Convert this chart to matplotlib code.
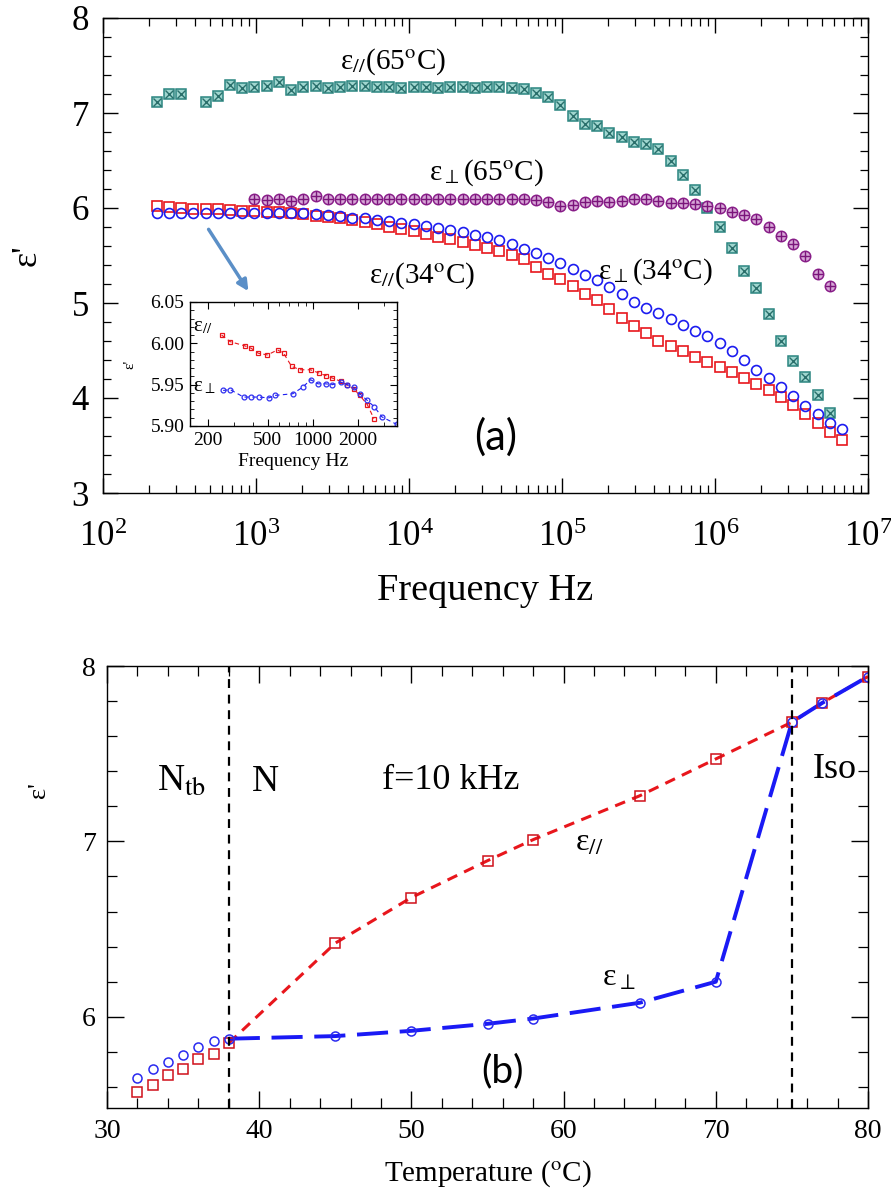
import numpy as np
import matplotlib
matplotlib.use("Agg")
import matplotlib.pyplot as plt
from matplotlib.ticker import MultipleLocator, LogLocator, NullFormatter, FixedLocator, FixedFormatter

plt.rcParams['font.family'] = ['Liberation Serif', 'DejaVu Serif']
plt.rcParams['mathtext.fontset'] = 'stix'

# ---- panel (a): frequency scans (Hz) ----
freq = [224, 269, 324, 389, 468, 562, 676, 813, 977, 1175,
        1413, 1698, 2042, 2455, 2951, 3548, 4266, 5129, 6166, 7413,
        8913, 10715, 12882, 15488, 18621, 22387, 26915, 32359, 38905, 46774,
        56234, 67608, 81283, 97724, 117490, 141254, 169824, 204174, 245471, 295121,
        354813, 426580, 512861, 616595, 741310, 891251, 1071519, 1288250, 1548817, 1862087,
        2238721, 2691535, 3235937, 3890451, 4677351, 5623413, 6760830]

eps_par_34 = [6.02, 6.01, 6.00, 5.99, 5.99, 5.99, 5.98, 5.97, 5.97, 5.96,
              5.96, 5.95, 5.94, 5.92, 5.91, 5.89, 5.87, 5.85, 5.83, 5.80,
              5.78, 5.76, 5.73, 5.70, 5.67, 5.64, 5.61, 5.58, 5.55, 5.51,
              5.46, 5.38, 5.31, 5.25, 5.18, 5.10, 5.03, 4.94, 4.84, 4.76,
              4.68, 4.60, 4.55, 4.49, 4.43, 4.38, 4.33, 4.27, 4.21, 4.15,
              4.08, 4.01, 3.93, 3.83, 3.74, 3.64, 3.56]

eps_perp_34 = [5.95, 5.95, 5.95, 5.95, 5.95, 5.95, 5.95, 5.95, 5.95, 5.95,
               5.95, 5.95, 5.95, 5.94, 5.93, 5.92, 5.90, 5.89, 5.87, 5.86,
               5.84, 5.83, 5.81, 5.79, 5.77, 5.75, 5.72, 5.69, 5.66, 5.62,
               5.57, 5.53, 5.47, 5.42, 5.36, 5.30, 5.24, 5.17, 5.09, 5.01,
               4.95, 4.89, 4.83, 4.77, 4.71, 4.65, 4.58, 4.50, 4.40, 4.30,
               4.21, 4.12, 4.02, 3.92, 3.83, 3.74, 3.67]

eps_par_65 = [7.12, 7.20, 7.20, np.nan, 7.12, 7.18, 7.29, 7.26, 7.27, 7.28,
              7.33, 7.24, 7.27, 7.28, 7.26, 7.27, 7.28, 7.28, 7.27, 7.27,
              7.26, 7.27, 7.27, 7.26, 7.27, 7.27, 7.26, 7.27, 7.27, 7.26,
              7.25, 7.21, 7.17, 7.08, 6.97, 6.88, 6.86, 6.79, 6.75, 6.70,
              6.67, 6.62, 6.49, 6.35, 6.19, 6.00, 5.80, 5.58, 5.34, 5.16,
              4.88, 4.60, 4.39, 4.22, 4.03, 3.84, np.nan]

eps_perp_65 = [np.nan, np.nan, np.nan, np.nan, np.nan, np.nan, np.nan, np.nan, 6.10, 6.08,
               6.10, 6.07, 6.10, 6.13, 6.09, 6.10, 6.09, 6.10, 6.09, 6.10,
               6.09, 6.10, 6.09, 6.10, 6.10, 6.09, 6.10, 6.09, 6.10, 6.09,
               6.09, 6.08, 6.06, 6.02, 6.03, 6.06, 6.07, 6.06, 6.07, 6.09,
               6.10, 6.07, 6.05, 6.05, 6.04, 6.02, 6.00, 5.96, 5.93, 5.88,
               5.80, 5.71, 5.62, 5.50, 5.31, 5.18, np.nan]

# inset (low frequency zoom, 34 C)
ins_f_par = [247, 282, 352, 389, 434, 499, 583, 640, 724, 828,
             968, 1104, 1222, 1352, 1542, 1706, 1875, 2061, 2312, 2559]
ins_par = [6.010, 6.002, 5.997, 5.994, 5.988, 5.986, 5.992, 5.988, 5.972, 5.968,
           5.968, 5.964, 5.961, 5.958, 5.954, 5.949, 5.945, 5.937, 5.926, 5.909]
ins_f_perp = [253, 282, 346, 389, 437, 511, 560, 736, 859, 968,
              1086, 1222, 1352, 1542, 1706, 1875, 2061, 2312, 2582, 2897, 3631]
ins_perp = [5.943, 5.944, 5.935, 5.935, 5.935, 5.934, 5.937, 5.939, 5.947, 5.956,
            5.951, 5.951, 5.950, 5.953, 5.950, 5.947, 5.939, 5.931, 5.923, 5.911, 5.902]

# ---- panel (b): temperature scan at 10 kHz ----
temp = [32, 33, 34, 35, 36, 37, 38, 45, 50, 55, 58, 65, 70, 75, 77, 80]
eps_par_T = [5.57, 5.61, 5.67, 5.70, 5.76, 5.79, 5.85, 6.42, 6.68, 6.89, 7.01, 7.26, 7.47, 7.68, 7.79, 7.94]
eps_perp_T = [5.65, 5.70, 5.74, 5.78, 5.83, 5.86, 5.875, 5.89, 5.92, 5.96, 5.99, 6.08, 6.20, 7.68, 7.79, 7.94]
T_N = 38
T_iso = 75

W, H = 891, 1198
fig = plt.figure(figsize=(W / 100, H / 100), dpi=100)

# ================= panel (a) =================
ax1 = fig.add_axes([103 / W, 1 - 493 / H, 765 / W, 475 / H])
ms = 7.5
ax1.plot(freq, eps_par_65, ls='none', marker='s', ms=ms, mfc='#9fd6cf', mec='#2a8580', mew=1.1)
ax1.plot(freq, eps_par_65, ls='none', marker='x', ms=ms * 0.75, mec='#2a6f6b', mew=1.0)
ax1.plot(freq, eps_perp_65, ls='none', marker='o', ms=ms, mfc='#d7a6d7', mec='#8a1f8a', mew=1.1)
ax1.plot(freq, eps_perp_65, ls='none', marker='+', ms=ms * 1.0, mec='#7a157a', mew=1.0)
ax1.plot(freq, eps_par_34, ls='none', marker='s', ms=ms, mfc='none', mec='#e8161c', mew=1.2)
ax1.plot(freq, eps_perp_34, ls='none', marker='o', ms=ms * 0.95, mfc='none', mec='#1c1cf0', mew=1.2)

ax1.set_xscale('log')
ax1.set_xlim(1e2, 1e7)
ax1.set_ylim(3, 8)
ax1.yaxis.set_major_locator(MultipleLocator(1))
ax1.yaxis.set_minor_locator(MultipleLocator(0.2))
ax1.xaxis.set_major_locator(LogLocator(base=10, numticks=10))
ax1.xaxis.set_minor_locator(LogLocator(base=10, subs=np.arange(2, 10), numticks=20))
ax1.xaxis.set_minor_formatter(NullFormatter())
ax1.tick_params(which='both', direction='in', top=True, right=True)
ax1.tick_params(which='major', length=11, width=1.0, labelsize=25)
ax1.tick_params(axis='y', which='major', pad=10)
ax1.tick_params(axis='x', which='major', pad=20)
ax1.tick_params(which='minor', length=6, width=0.9)
ax1.set_xlabel('Frequency Hz', fontsize=27.5, labelpad=14)
ax1.set_ylabel("ε'", fontsize=26, labelpad=20)

ax1.text(7850, 7.54, 'ε$_{//}$(65$^{\\mathrm{o}}$C)', fontsize=21, ha='center', va='center')
ax1.text(32000, 6.37, 'ε$_{\\perp}$(65$^{\\mathrm{o}}$C)', fontsize=21, ha='center', va='center')
ax1.text(12200, 5.29, 'ε$_{//}$(34$^{\\mathrm{o}}$C)', fontsize=21, ha='center', va='center')
ax1.text(405000, 5.33, 'ε$_{\\perp}$(34$^{\\mathrm{o}}$C)', fontsize=21, ha='center', va='center')
ax1.text(37000, 3.59, '(a)', fontsize=30, ha='center', va='center', family=['Lato', 'DejaVu Sans'])

ax1.annotate('', xy=(912, 5.10), xytext=(479, 5.80),
             arrowprops=dict(arrowstyle='-|>', color='#5b8fc7', lw=2.5, mutation_scale=16))

# inset
axi = fig.add_axes([190 / W, 1 - 426 / H, 207 / W, 124 / H])
axi.plot(ins_f_par, ins_par, ls=(0, (4, 3)), color='#e8161c', lw=0.8,
         marker='s', ms=3.5, mfc='none', mec='#e8161c', mew=0.9)
axi.plot(ins_f_perp, ins_perp, ls=(0, (4, 3)), color='#1c1cf0', lw=0.8,
         marker='o', ms=3.5, mfc='none', mec='#3030f0', mew=0.9)
axi.set_xscale('log')
axi.set_xlim(152, 3650)
axi.set_ylim(5.90, 6.05)
axi.xaxis.set_major_locator(FixedLocator([200, 500, 1000, 2000]))
axi.xaxis.set_major_formatter(FixedFormatter(['200', '500', '1000', '2000']))
axi.xaxis.set_minor_locator(LogLocator(base=10, subs=np.arange(2, 10), numticks=20))
axi.xaxis.set_minor_formatter(NullFormatter())
axi.yaxis.set_major_locator(FixedLocator([5.90, 5.95, 6.00, 6.05]))
axi.yaxis.set_major_formatter(FixedFormatter(['5.90', '5.95', '6.00', '6.05']))
axi.yaxis.set_minor_locator(MultipleLocator(0.01))
axi.tick_params(which='both', direction='in', top=True, right=True, labelsize=14)
axi.tick_params(which='major', length=5, pad=4)
axi.tick_params(which='minor', length=3)
axi.set_xlabel('Frequency Hz', fontsize=14, labelpad=3)
axi.set_ylabel("ε'", fontsize=11, labelpad=10)
axi.text(160, 6.020, 'ε$_{//}$', fontsize=15, ha='left', va='center')
axi.text(160, 5.948, 'ε$_{\\perp}$', fontsize=15, ha='left', va='center')

# ================= panel (b) =================
ax2 = fig.add_axes([107 / W, 1 - 1108 / H, 761 / W, 442 / H])
temp_a = np.array(temp)
par_a = np.array(eps_par_T)
perp_a = np.array(eps_perp_T)
on = temp_a >= T_N
ax2.plot(temp_a[on], par_a[on], ls=(0, (3.5, 2.5)), color='#e8161c', lw=2.2)
ax2.plot(temp_a[on], perp_a[on], ls=(0, (8, 3)), color='#1a1af5', lw=2.8)
ax2.plot(temp_a, par_a, ls='none', marker='s', ms=7, mfc='none', mec='#d0101a', mew=1.1)
ax2.plot(temp_a, perp_a, ls='none', marker='o', ms=6.5, mfc='none', mec='#2a2af0', mew=1.1)
ax2.axvline(T_N, color='black', ls=(0, (4, 3)), lw=1.6)
ax2.axvline(T_iso, color='black', ls=(0, (4, 3)), lw=1.6)

ax2.set_xlim(30, 80)
ax2.set_ylim(5.48, 8)
ax2.xaxis.set_major_locator(MultipleLocator(10))
ax2.xaxis.set_minor_locator(MultipleLocator(2))
ax2.yaxis.set_major_locator(MultipleLocator(1))
ax2.yaxis.set_minor_locator(MultipleLocator(0.2))
ax2.tick_params(which='both', direction='in', top=True, right=True)
ax2.tick_params(which='major', length=12, width=1.0, labelsize=20, pad=8)
ax2.tick_params(which='minor', length=7, width=0.9)
ax2.set_xlabel('Temperature ($^{\\mathrm{o}}$C)', fontsize=21, labelpad=10)
ax2.set_ylabel("ε'", fontsize=19, labelpad=18)
ax2.yaxis.set_label_coords(-0.075, 0.72)

ax2.text(34.9, 7.34, 'N$_{\\mathrm{tb}}$', fontsize=27, ha='center', va='center')
ax2.text(40.4, 7.34, 'N', fontsize=27, ha='center', va='center')
ax2.text(52.6, 7.35, 'f=10 kHz', fontsize=26, ha='center', va='center')
ax2.text(77.8, 7.41, 'Iso', fontsize=26, ha='center', va='center')
ax2.text(61.7, 6.99, 'ε$_{//}$', fontsize=23, ha='center', va='center')
ax2.text(63.6, 6.22, 'ε$_{\\perp}$', fontsize=23, ha='center', va='center')
ax2.text(56.0, 5.69, '(b)', fontsize=28, ha='center', va='center', family=['Lato', 'DejaVu Sans'])

for ax in (ax1, ax2, axi):
    for s in ax.spines.values():
        s.set_linewidth(1.0)

fig.savefig('out.png', dpi=100)
